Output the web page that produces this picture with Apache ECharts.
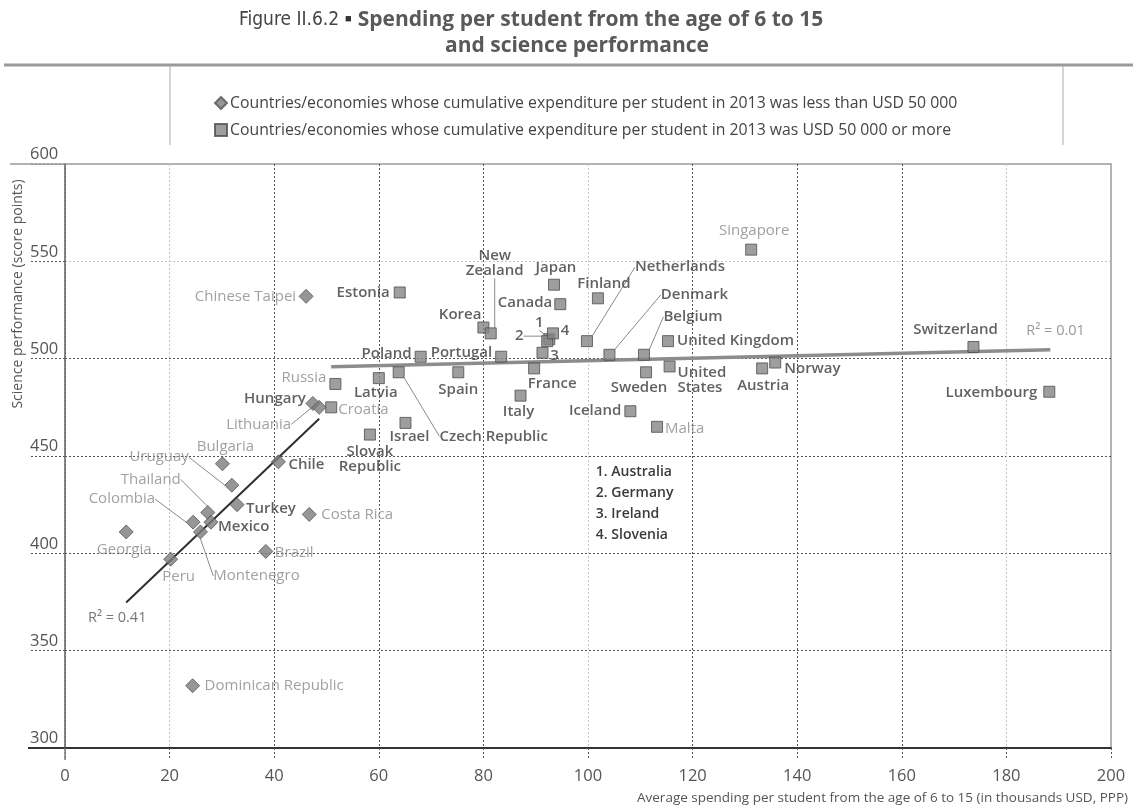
<!DOCTYPE html>
<html>
<head>
<meta charset="utf-8">
<script src="https://cdn.jsdelivr.net/npm/echarts@6/dist/echarts.min.js"></script>
<style>
html,body{margin:0;padding:0;background:#fff;}
#chart{width:1133px;height:811px;}
</style>
</head>
<body>
<div id="chart"></div>
<script>
// ---------- data ----------
const seriesLowName = 'Countries/economies whose cumulative expenditure per student in 2013 was less than USD 50 000';
const seriesHighName = 'Countries/economies whose cumulative expenditure per student in 2013 was USD 50 000 or more';

const lowNames = ['Chinese Taipei','Dominican Republic','Georgia','Peru','Colombia','Montenegro','Thailand','Mexico','Uruguay','Bulgaria','Turkey','Chile','Costa Rica','Brazil','Hungary','Lithuania'];
const lowSpend = [46.1, 24.4, 11.7, 20.2, 24.5, 25.9, 27.3, 27.9, 31.9, 30.1, 32.9, 40.8, 46.7, 38.4, 47.4, 48.6];
const lowScore = [532, 332, 411, 397, 416, 411, 421, 416, 435, 446, 425, 447, 420, 401, 477, 475];

const highNames = ['Croatia','Russia','Latvia','Estonia','Slovak Republic','Israel','Poland','Czech Republic','Spain','Portugal','Korea','New Zealand','Japan','Canada','Finland','Netherlands','Denmark','Belgium','United Kingdom','United States','Sweden','France','Italy','Iceland','Malta','Austria','Norway','Singapore','Switzerland','Luxembourg','Australia','Germany','Ireland','Slovenia'];
const highSpend = [50.9, 51.7, 60.0, 64.0, 58.3, 65.1, 68.0, 63.8, 75.2, 83.4, 80.0, 81.4, 93.5, 94.7, 101.9, 99.8, 104.1, 110.7, 115.3, 115.6, 111.1, 89.7, 87.1, 108.1, 113.2, 133.3, 135.8, 131.2, 173.7, 188.2, 92.6, 92.2, 91.3, 93.3];
const highScore = [475, 487, 490, 534, 461, 467, 501, 493, 493, 501, 516, 513, 538, 528, 531, 509, 502, 502, 509, 496, 493, 495, 481, 473, 465, 495, 498, 556, 506, 483, 510, 509, 503, 513];

// countries shown by footnote number
const footnoteCountries = ['Australia','Germany','Ireland','Slovenia'];
// partner countries/economies (lighter labels)
const partners = ['Chinese Taipei','Dominican Republic','Georgia','Peru','Colombia','Montenegro','Thailand','Uruguay','Bulgaria','Costa Rica','Brazil','Lithuania','Croatia','Russia','Malta','Singapore'];

// trend lines (end points)
const trendLowX = [11.7, 48.6];
const trendLowY = [374.7, 469.1];
const trendHighX = [50.9, 188.4];
const trendHighY = [495.9, 504.6];
const r2Low = 'R² = 0.41';
const r2High = 'R² = 0.01';

const xTicks = {min: 0, max: 200, step: 20};
const yTicks = {min: 300, max: 600, step: 50};

// ---------- label placement (dx, dy from marker centre, align, leader line) ----------
const labelPlace = {
  'Chinese Taipei':[-10,0,'right'], 'Dominican Republic':[12,0,'left'], 'Georgia':[-2,18,'center'],
  'Peru':[8,18,'center'], 'Colombia':[-38,-23,'right',1], 'Montenegro':[56,44,'center',1],
  'Thailand':[-27,-33,'right',1], 'Mexico':[7,5,'left'], 'Uruguay':[-43,-28,'right',1],
  'Bulgaria':[3,-17,'center'], 'Turkey':[9,4,'left'], 'Chile':[10,3,'left'], 'Costa Rica':[12,0,'left'],
  'Brazil':[9,1,'left'], 'Hungary':[-7,-5,'right'], 'Lithuania':[-28,17,'right',1],
  'Croatia':[7,2,'left'], 'Russia':[-9,-6,'right'], 'Latvia':[-3,15,'center'], 'Estonia':[-10,0,'right'],
  'Slovak Republic':[0,25,'center'], 'Israel':[4,14,'center'], 'Poland':[-9,-3,'right'],
  'Czech Republic':[95,64,'center',1], 'Spain':[0,17,'center'], 'Portugal':[-9,-4,'right'],
  'Korea':[-2,-13,'right'], 'New Zealand':[4,-70,'center',1], 'Japan':[2,-17,'center'],
  'Canada':[-8,-1,'right'], 'Finland':[6,-15,'center'], 'Netherlands':[93,-74,'center',1],
  'Denmark':[85,-60,'center',1], 'Belgium':[49,-38,'center',1], 'United Kingdom':[9,0,'left'],
  'United States':[8,14,'left'], 'Sweden':[-7,15,'center'], 'France':[18,15,'center'],
  'Italy':[-2,16,'center'], 'Iceland':[-9,0,'right'], 'Malta':[8,2,'left'], 'Austria':[1,17,'center'],
  'Norway':[9,6,'left'], 'Singapore':[3,-19,'center'], 'Switzerland':[-18,-17,'center'],
  'Luxembourg':[-12,1,'right'], 'Australia':[-10,-16,'center',1], 'Germany':[-28,-5,'center',1],
  'Ireland':[12,3,'center'], 'Slovenia':[12,-3,'center']
};
const twoLine = {'Slovak Republic':'Slovak\nRepublic','New Zealand':'New\nZealand','United States':'United\nStates'};

const FONT = '"Open Sans", "Noto Sans", sans-serif';
const NARROW = '"Liberation Sans Narrow", "DejaVu Sans Condensed", "Open Sans", sans-serif';
const DARK = '#3a3a3a', LIGHT = '#8a8a8a';

function labelText(name){
  const k = footnoteCountries.indexOf(name);
  if (k >= 0) return String(k + 1);
  return twoLine[name] || name;
}
function buildData(names, xs, ys){
  return names.map((n, i) => {
    const p = labelPlace[n] || [8,0,'left'];
    const isPartner = partners.indexOf(n) >= 0;
    return {
      name: n,
      value: [xs[i], ys[i]],
      label: {
        show: true, position: 'inside', formatter: labelText(n),
        color: isPartner ? LIGHT : DARK,
        fontWeight: isPartner ? 'normal' : 600,
        fontSize: 15, fontFamily: FONT, lineHeight: 15
      },
      labelLine: { show: !!p[3], lineStyle: { color: '#8a8a8a', width: 1 } }
    };
  });
}
function layoutFor(names){
  return function(params){
    const p = labelPlace[names[params.dataIndex]] || [8,0,'left'];
    return { dx: p[0], dy: p[1], align: p[2], verticalAlign: 'middle' };
  };
}

const chart = echarts.init(document.getElementById('chart'), null, {renderer: 'canvas'});
const D = '#555', L = '#c4c4c4';

const option = {
  animation: false,
  backgroundColor: '#fff',
  title: [
    { left: 234, top: 5,
      text: '{a|Figure II.6.2}{b|■}{c|Spending per student from the age of 6 to 15}',
      textStyle: { fontWeight: 'normal', rich: {
        a: {fontFamily: NARROW, fontWeight: 'normal', fontSize: 19, color: '#444'},
        b: {fontSize: 11, fontWeight: 'normal', color: '#333', padding: [0,6,3,6]},
        c: {fontFamily: FONT, fontWeight: 'bold', fontSize: 21, color: '#595959'}
      }}},
    { left: 440, top: 31, text: 'and science performance',
      textStyle: {fontFamily: FONT, fontWeight: 'bold', fontSize: 21, color: '#595959'} }
  ],
  legend: {
    data: [seriesLowName, seriesHighName],
    orient: 'vertical', left: 209, top: 90,
    itemWidth: 12, itemHeight: 12, itemGap: 11,
    textStyle: {fontFamily: FONT, fontSize: 15.8, color: '#444', padding: [0,0,0,-2]},
    selectedMode: false
  },
  grid: { left: 65, right: 22, top: 164, bottom: 63, show: true, borderColor: '#9a9a9a', borderWidth: 1.5, containLabel: false },
  xAxis: {
    type: 'value', min: xTicks.min, max: xTicks.max, interval: xTicks.step,
    axisLine: {show: true, onZero: false, lineStyle: {color: '#333', width: 2}},
    axisTick: {show: true, length: 12, lineStyle: {color: '#555', type: [2,2], width: 1}},
    axisLabel: {fontFamily: FONT, fontSize: 16.5, color: '#555', margin: 20},
    splitLine: {show: true, showMinLine: true, showMaxLine: false, lineStyle: {color: [D, L, D, D], type: [2,2], width: 1}}
  },
  yAxis: {
    type: 'value', min: yTicks.min, max: yTicks.max, interval: yTicks.step,
    axisLine: {show: true, lineStyle: {color: '#777', width: 1.5}},
    axisTick: {show: true, inside: false, length: 36, lineStyle: {color: '#555', type: [2,2], width: 1}},
    axisLabel: {fontFamily: FONT, fontSize: 16.5, color: '#555', align: 'left', verticalAlign: 'bottom', margin: 35, padding: [0,0,1,0]},
    splitLine: {show: true, showMinLine: true, showMaxLine: false, lineStyle: {color: [D, D, D, D, D, L, D], type: [2,2], width: 1}}
  },
  series: [
    { type: 'line', silent: true, symbol: 'none', z: 2,
      data: trendLowX.map((x, i) => [x, trendLowY[i]]),
      lineStyle: {color: '#2f2f2f', width: 2} },
    { type: 'line', silent: true, symbol: 'none', z: 2,
      data: trendHighX.map((x, i) => [x, trendHighY[i]]),
      lineStyle: {color: '#8c8c8c', width: 3.5} },
    { name: seriesLowName, type: 'scatter', symbol: 'diamond', symbolSize: 14, z: 3,
      itemStyle: {color: '#7c7c7c', borderColor: '#555', borderWidth: 1},
      data: buildData(lowNames, lowSpend, lowScore),
      labelLayout: layoutFor(lowNames) },
    { name: seriesHighName, type: 'scatter', symbol: 'rect', symbolSize: 11, z: 3,
      itemStyle: {color: '#868686', borderColor: '#4d4d4d', borderWidth: 1},
      data: buildData(highNames, highSpend, highScore),
      labelLayout: layoutFor(highNames) }
  ]
};
chart.setOption(option);

// ---------- decorations positioned through the chart's own scales ----------
const pO = chart.convertToPixel({gridIndex: 0}, [xTicks.min, yTicks.min]);
const pTop = chart.convertToPixel({gridIndex: 0}, [xTicks.min, yTicks.max]);
const pLow = chart.convertToPixel({gridIndex: 0}, [trendLowX[0], trendLowY[0]]);
const pHigh = chart.convertToPixel({gridIndex: 0}, [trendHighX[1], trendHighY[1]]);
const pNote = chart.convertToPixel({gridIndex: 0}, [101.5, 447]);

const footLines = footnoteCountries.map((c, i) => (i + 1) + '. ' + c).join('\n');

chart.setOption({
  graphic: [
    // header rule and legend frame
    {type: 'line', shape: {x1: 4, y1: 65, x2: 1133, y2: 65}, style: {stroke: '#9a9a9a', lineWidth: 3}, z: 10},
    {type: 'line', shape: {x1: 170, y1: 66, x2: 170, y2: 145}, style: {stroke: '#aaa', lineWidth: 1}, z: 10},
    {type: 'line', shape: {x1: 1063, y1: 66, x2: 1063, y2: 145}, style: {stroke: '#aaa', lineWidth: 1}, z: 10},
    // extensions of frame lines
    {type: 'line', shape: {x1: 10, y1: pTop[1], x2: pTop[0], y2: pTop[1]}, style: {stroke: '#9a9a9a', lineWidth: 1.5}, z: 10},
    {type: 'line', shape: {x1: 28, y1: pO[1], x2: pO[0], y2: pO[1]}, style: {stroke: '#333', lineWidth: 2}, z: 10},
    {type: 'line', shape: {x1: pO[0], y1: pO[1], x2: pO[0], y2: pO[1] + 12}, style: {stroke: '#777', lineWidth: 1.5}, z: 10},
    // axis titles
    {type: 'text', x: 18, y: 294, rotation: Math.PI / 2, z: 10,
      style: {text: 'Science performance (score points)', fontFamily: FONT, fontSize: 14, fill: '#555', align: 'center', verticalAlign: 'middle'}},
    {type: 'text', x: 1128, y: 798, z: 10,
      style: {text: 'Average spending per student from the age of 6 to 15 (in thousands USD, PPP)', fontFamily: FONT, fontSize: 13.5, fill: '#555', align: 'right', verticalAlign: 'middle'}},
    // R² annotations
    {type: 'text', x: pLow[0] - 9, y: pLow[1] + 15, z: 10,
      style: {text: r2Low, fontFamily: FONT, fontSize: 14.5, fill: '#777', align: 'center', verticalAlign: 'middle'}},
    {type: 'text', x: pHigh[0] - 24, y: pHigh[1] - 19, z: 10,
      style: {text: r2High, fontFamily: FONT, fontSize: 14.5, fill: '#999', align: 'left', verticalAlign: 'middle'}},
    // footnote key
    {type: 'text', x: pNote[0], y: pNote[1], z: 10,
      style: {text: footLines, fontFamily: FONT, fontSize: 14, fontWeight: 600, fill: '#3a3a3a', lineHeight: 21, align: 'left', verticalAlign: 'top'}}
  ]
});
</script>
</body>
</html>
